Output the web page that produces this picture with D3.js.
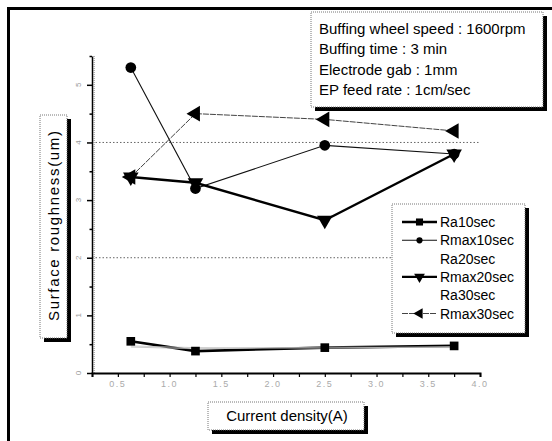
<!DOCTYPE html>
<html>
<head>
<meta charset="utf-8">
<script src="https://cdn.jsdelivr.net/npm/d3@7"></script>
<style>
  html, body { margin: 0; padding: 0; background: #fff; }
  svg { display: block; font-family: "Liberation Sans", Arial, sans-serif; }
</style>
</head>
<body>
<div id="chart"></div>
<script>
// Current density (A) at which each run was measured
const currentDensity = [0.625, 1.25, 2.5, 3.75];

// Surface roughness (um) per series
const ra10   = [0.55, 0.38, 0.44, 0.47];
const rmax10 = [5.3, 3.2, 3.95, 3.8];
const ra20   = [0.47, 0.44, 0.43, 0.46];
const rmax20 = [3.4, 3.3, 2.65, 3.8];
const ra30   = [0.45, 0.42, 0.45, 0.44];
const rmax30 = [3.4, 4.5, 4.4, 4.2];

const xTicks = [0.5, 1.0, 1.5, 2.0, 2.5, 3.0, 3.5, 4.0];
const yTicks = [0, 1, 2, 3, 4, 5];
const gridValues = [2, 4];

const conditions = [
  'Buffing wheel speed : 1600rpm',
  'Buffing time : 3 min',
  'Electrode gab : 1mm',
  'EP feed rate : 1cm/sec'
];

const series = [
  { name: 'Ra10sec',   values: ra10,   symbol: 'square', width: 2.6, color: '#000', marker: true },
  { name: 'Rmax10sec', values: rmax10, symbol: 'circle', width: 1.1, color: '#111', marker: true },
  { name: 'Ra20sec',   values: ra20,   symbol: null,     width: 0.8, color: '#bbb', marker: false },
  { name: 'Rmax20sec', values: rmax20, symbol: 'down',   width: 2.4, color: '#000', marker: true },
  { name: 'Ra30sec',   values: ra30,   symbol: null,     width: 0.8, color: '#bbb', marker: false },
  { name: 'Rmax30sec', values: rmax30, symbol: 'left',   width: 1.0, color: '#444', marker: true, dash: '6,1' }
];

const W = 552, H = 441;
const svg = d3.select('#chart').append('svg').attr('width', W).attr('height', H);

// outer frame (cropped at right / bottom in the scan)
svg.append('rect').attr('x', 8.5).attr('y', 8.5).attr('width', 560).attr('height', 460)
  .attr('fill', 'none').attr('stroke', '#000').attr('stroke-width', 3);

const x = d3.scaleLinear().domain([0.25, 4.0]).range([92, 480]);
const y = d3.scaleLinear().domain([0, 5.5]).range([373, 56]);

// dotted reference lines
svg.append('g').selectAll('line').data(gridValues).join('line')
  .attr('x1', x(0.25)).attr('x2', x(4.0))
  .attr('y1', d => y(d)).attr('y2', d => y(d))
  .attr('stroke', '#666').attr('stroke-width', 1).attr('stroke-dasharray', '1.5,2');

// axes
const yAxis = d3.axisLeft(y).tickValues(d3.range(0, 5.51, 0.5))
  .tickSize(0).tickFormat('');
const gy = svg.append('g').attr('transform', `translate(${x(0.25)},0)`).call(yAxis);
gy.select('.domain').attr('stroke', '#000').attr('stroke-width', 1.5);
gy.selectAll('.tick line')
  .attr('x2', d => Number.isInteger(d) ? -5 : -2.5)
  .attr('stroke', '#000').attr('stroke-width', 1.5);
// gray shadow stripe along the y axis
svg.append('line').attr('x1', x(0.25) + 2).attr('x2', x(0.25) + 2)
  .attr('y1', y(5.5)).attr('y2', y(0))
  .attr('stroke', '#999').attr('stroke-width', 1.5).attr('stroke-dasharray', '1,1');

svg.append('g').selectAll('text').data(yTicks).join('text')
  .attr('transform', d => `translate(${x(0.25) - 11},${y(d)}) rotate(-90)`)
  .attr('text-anchor', 'middle').attr('font-size', 8).attr('fill', '#999')
  .text(d => d);

const xAxis = d3.axisBottom(x).tickValues(d3.range(0.25, 4.01, 0.25))
  .tickSize(4).tickFormat('');
const gx = svg.append('g').attr('transform', `translate(0,${y(0)})`).call(xAxis);
gx.select('.domain').attr('stroke', '#000').attr('stroke-width', 2);
gx.selectAll('.tick line').attr('stroke', '#000').attr('stroke-width', 1.2);

svg.append('g').selectAll('text').data(xTicks).join('text')
  .attr('x', d => x(d)).attr('y', y(0) + 14)
  .attr('text-anchor', 'middle').attr('font-size', 9).attr('fill', '#aaa')
  .attr('letter-spacing', 1.5)
  .text(d => d.toFixed(1));

// symbol helper
function symbolPath(kind, size) {
  if (kind === 'square') return d3.symbol(d3.symbolSquare, size)();
  if (kind === 'circle') return d3.symbol(d3.symbolCircle, size)();
  return d3.symbol(d3.symbolTriangle, size)();
}
function symbolRotate(kind) {
  if (kind === 'down') return 180;
  if (kind === 'left') return -90;
  return 0;
}

// series lines
const line = d3.line().x((d, i) => x(currentDensity[i])).y(d => y(d));
series.forEach(s => {
  svg.append('path').datum(s.values)
    .attr('d', line)
    .attr('fill', 'none')
    .attr('stroke', s.color)
    .attr('stroke-width', s.width)
    .attr('stroke-dasharray', s.dash || null);
});

// series markers
series.filter(s => s.marker).forEach(s => {
  const size = s.symbol === 'square' ? 75 : s.symbol === 'circle' ? 90 : 105;
  svg.append('g').selectAll('path').data(s.values).join('path')
    .attr('transform', (d, i) => `translate(${x(currentDensity[i])},${y(d)}) rotate(${symbolRotate(s.symbol)})`)
    .attr('d', symbolPath(s.symbol, size))
    .attr('fill', '#000');
});

// shadowed box helper
function shadowBox(x0, y0, w, h) {
  const g = svg.append('g');
  g.append('rect').attr('x', x0 + 4).attr('y', y0 + 4).attr('width', w).attr('height', h).attr('fill', '#000');
  g.append('rect').attr('x', x0).attr('y', y0).attr('width', w).attr('height', h)
    .attr('fill', '#fff').attr('stroke', '#777').attr('stroke-width', 1).attr('stroke-dasharray', '1,1');
  return g;
}

// conditions box
const cBox = shadowBox(311, 12, 232, 95);
cBox.selectAll('text').data(conditions).join('text')
  .attr('x', 319).attr('y', (d, i) => 34 + i * 20.3)
  .attr('font-size', 15).attr('fill', '#000')
  .text(d => d);

// legend
const lg = shadowBox(392, 204, 133, 129);
series.forEach((s, i) => {
  const ly = 222 + i * 18.3;
  if (s.marker) {
    lg.append('line').attr('x1', 402).attr('x2', 437).attr('y1', ly).attr('y2', ly)
      .attr('stroke', s.color).attr('stroke-width', s.width)
      .attr('stroke-dasharray', s.dash || null);
    const size = s.symbol === 'square' ? 50 : s.symbol === 'circle' ? 30 : 50;
    lg.append('path')
      .attr('transform', `translate(419.5,${ly}) rotate(${symbolRotate(s.symbol)})`)
      .attr('d', symbolPath(s.symbol, size)).attr('fill', '#000');
  }
  lg.append('text').attr('x', 440).attr('y', ly + 5)
    .attr('font-size', 14).attr('fill', '#000').text(s.name);
});

// axis titles
const yt = shadowBox(40, 115, 27, 223);
yt.append('text')
  .attr('transform', 'translate(59,226) rotate(-90)')
  .attr('text-anchor', 'middle').attr('font-size', 15).attr('fill', '#000')
  .attr('textLength', 190).attr('lengthAdjust', 'spacing')
  .text('Surface roughness(um)');

const xt = shadowBox(208, 402, 156, 28);
xt.append('text')
  .attr('x', 287).attr('y', 421)
  .attr('text-anchor', 'middle').attr('font-size', 15).attr('fill', '#000')
  .text('Current density(A)');
</script>
</body>
</html>
